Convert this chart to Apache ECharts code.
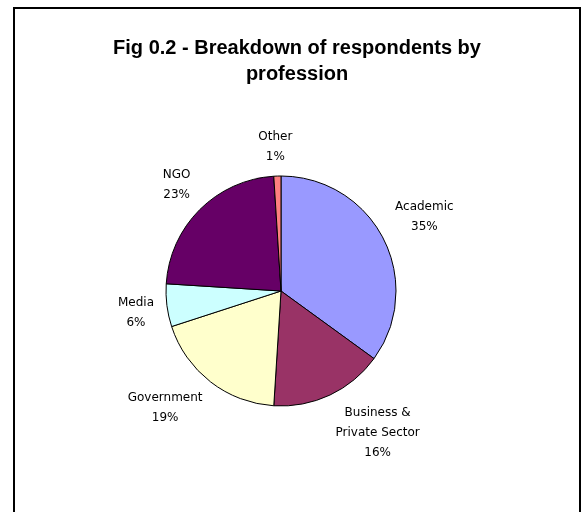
<!DOCTYPE html>
<html>
<head>
<meta charset="utf-8">
<script src="https://cdn.jsdelivr.net/npm/echarts@6/dist/echarts.min.js"></script>
<style>
  html, body { margin: 0; padding: 0; background: #fff; }
  #chart { width: 582px; height: 512px; }
</style>
</head>
<body>
<div id="chart"></div>
<script>
// Respondents by profession (percent of all respondents)
const categories = ['Academic', 'Business &\nPrivate Sector', 'Government', 'Media', 'NGO', 'Other'];
const shares = [35, 16, 19, 6, 23, 1];
const sliceColors = ['#9999FF', '#993366', '#FFFFCC', '#CCFFFF', '#660066', '#FF8080'];

const titleText = 'Fig 0.2 - Breakdown of respondents by\nprofession';

// pie geometry
const CX = 281, CY = 291, R = 115, LABEL_GAP = 13;

// mid-angle of each slice, clockwise from 12 o'clock
const total = shares.reduce((a, b) => a + b, 0);
const midAngles = [];
let acc = 0;
shares.forEach(v => {
  midAngles.push((acc + v / 2) / total * 2 * Math.PI);
  acc += v;
});

const clamp1 = v => Math.max(-1, Math.min(1, v));

const chart = echarts.init(document.getElementById('chart'), null, { renderer: 'canvas' });

chart.setOption({
  animation: false,
  backgroundColor: '#ffffff',
  title: {
    text: titleText,
    left: 292,
    top: 30,
    textAlign: 'center',
    textStyle: {
      fontFamily: 'Liberation Sans, Arial, sans-serif',
      fontWeight: 'bold',
      fontSize: 20,
      lineHeight: 26,
      color: '#000'
    }
  },
  graphic: [{
    type: 'rect',
    shape: { x: 14, y: 8, width: 566, height: 520 },
    style: { fill: 'none', stroke: '#000', lineWidth: 2 },
    silent: true
  }],
  series: [{
    type: 'pie',
    center: [CX, CY],
    radius: R,
    startAngle: 90,
    clockwise: true,
    avoidLabelOverlap: false,
    silent: true,
    itemStyle: { borderColor: '#000', borderWidth: 1 },
    label: {
      show: true,
      position: 'outside',
      formatter: '{b}\n{c}%',
      fontFamily: 'DejaVu Sans, Verdana, sans-serif',
      fontSize: 12,
      lineHeight: 20,
      color: '#000',
      align: 'center'
    },
    labelLine: { show: false },
    // place each label box so its corner nearest the pie sits just outside the rim
    labelLayout: function (params) {
      const a = midAngles[params.dataIndex];
      const ux = Math.sin(a), uy = -Math.cos(a);
      const w = params.labelRect.width, h = params.labelRect.height - 8;
      const d = R + LABEL_GAP;
      return {
        x: CX + d * ux + clamp1(3 * ux) * w / 2,
        y: CY + d * uy + clamp1(3 * uy) * h / 2,
        align: 'center',
        verticalAlign: 'middle'
      };
    },
    data: categories.map((name, i) => ({
      name: name,
      value: shares[i],
      itemStyle: { color: sliceColors[i] }
    }))
  }]
});
</script>
</body>
</html>
